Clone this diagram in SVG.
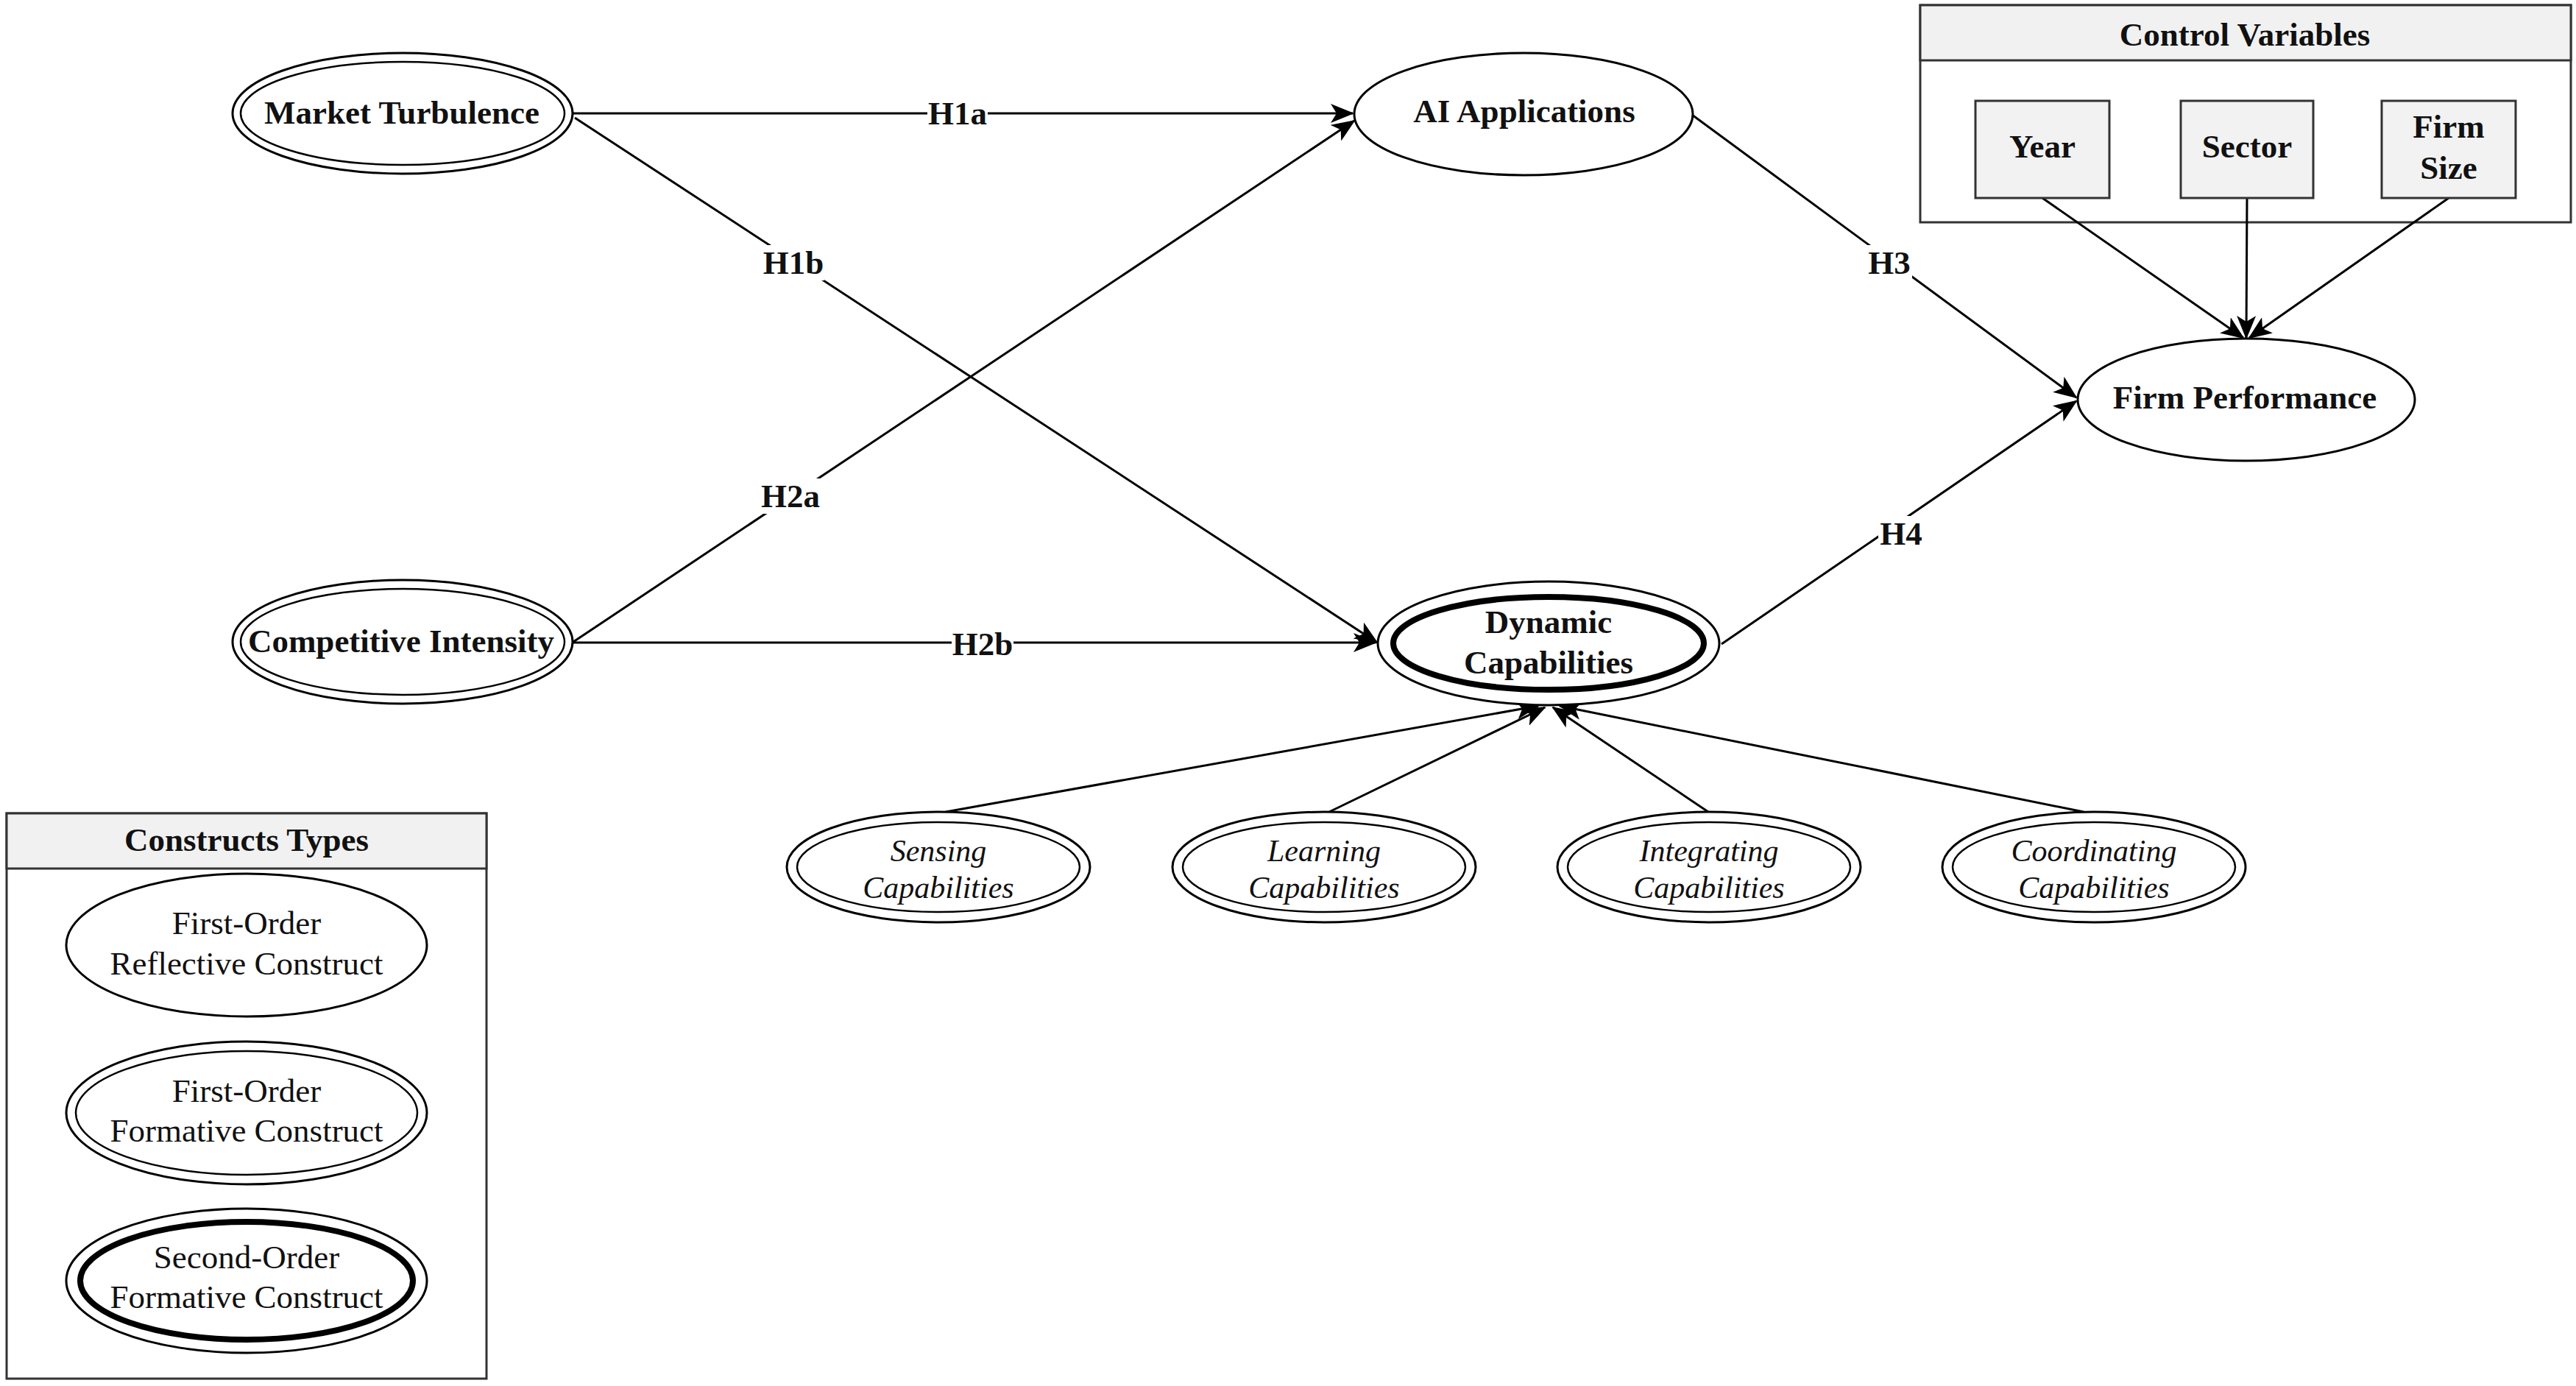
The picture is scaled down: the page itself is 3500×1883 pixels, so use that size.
<svg xmlns="http://www.w3.org/2000/svg" width="3500" height="1883" viewBox="0 0 3500 1883">
<style>
.bg{fill:#ffffff}
.n{fill:#ffffff;stroke:#000;stroke-width:3}
.d{fill:none;stroke:#000;stroke-width:2.5}
.t{fill:none;stroke:#000;stroke-width:8}
.e{fill:none;stroke:#000;stroke-width:3}
.lb{fill:#ffffff;stroke:none}
.tb{font-family:"Liberation Serif","Times New Roman",serif;font-size:45px;font-weight:bold;fill:#111;text-anchor:middle}
.tr{font-family:"Liberation Serif","Times New Roman",serif;font-size:45px;fill:#111;text-anchor:middle}
.ti{font-family:"Liberation Serif","Times New Roman",serif;font-size:42px;font-style:italic;fill:#111;text-anchor:middle}
.box{fill:#ffffff;stroke:#333;stroke-width:3}
.hdr{fill:#f1f1f1;stroke:#333;stroke-width:3}
.cv{fill:#f2f2f2;stroke:#333;stroke-width:3}
</style>
<defs>
<marker id="arr" markerUnits="userSpaceOnUse" markerWidth="32" markerHeight="26" refX="30" refY="13" orient="auto">
<path d="M0,0 L32,13 L0,26 L8,13 Z" fill="#000"/>
</marker>
</defs>
<rect class="bg" x="0" y="0" width="3500" height="1883"/>

<g id="control-variables">
<rect class="box" x="2609" y="7" width="884" height="295"/>
<rect class="hdr" x="2609" y="7" width="884" height="75"/>
<text class="tb" x="3050" y="62">Control Variables</text>
</g>

<g id="connectors">
<line class="e" x1="779" y1="154" x2="1838" y2="154" marker-end="url(#arr)"/>
<line class="e" x1="781" y1="160" x2="1871" y2="873" marker-end="url(#arr)"/>
<line class="e" x1="779" y1="872" x2="1840" y2="164" marker-end="url(#arr)"/>
<line class="e" x1="779" y1="873" x2="1869" y2="873" marker-end="url(#arr)"/>
<line class="e" x1="2299" y1="156" x2="2821" y2="540" marker-end="url(#arr)"/>
<line class="e" x1="2339" y1="875" x2="2821" y2="545" marker-end="url(#arr)"/>
<line class="e" x1="2775" y1="269" x2="3048" y2="459" marker-end="url(#arr)"/>
<line class="e" x1="3053" y1="269" x2="3052" y2="459" marker-end="url(#arr)"/>
<line class="e" x1="3327" y1="269" x2="3056" y2="459" marker-end="url(#arr)"/>
<line class="e" x1="1285" y1="1103" x2="2090" y2="959" marker-end="url(#arr)"/>
<line class="e" x1="1806" y1="1103" x2="2099" y2="961" marker-end="url(#arr)"/>
<line class="e" x1="2321" y1="1103" x2="2110" y2="961" marker-end="url(#arr)"/>
<line class="e" x1="2831" y1="1103" x2="2119" y2="959" marker-end="url(#arr)"/>
<g id="edge-labels">
<rect class="lb" x="1260" y="130" width="82" height="48"/>
<text class="tb" x="1301" y="169">H1a</text>
<rect class="lb" x="1036" y="333" width="84" height="48"/>
<text class="tb" x="1078" y="372">H1b</text>
<rect class="lb" x="1032" y="650" width="84" height="48"/>
<text class="tb" x="1074" y="689">H2a</text>
<rect class="lb" x="1293" y="851" width="84" height="48"/>
<text class="tb" x="1335" y="890">H2b</text>
<rect class="lb" x="2536" y="333" width="62" height="48"/>
<text class="tb" x="2567" y="372">H3</text>
<rect class="lb" x="2552" y="701" width="62" height="48"/>
<text class="tb" x="2583" y="740">H4</text>
</g>
</g>

<g id="market-turbulence">
<ellipse class="n" cx="547" cy="154" rx="231" ry="82" stroke-width="2.5"/>
<ellipse class="d" cx="547" cy="154" rx="220" ry="70"/>
<text class="tb" x="546" y="168">Market Turbulence</text>
</g>

<g id="competitive-intensity">
<ellipse class="n" cx="547" cy="872" rx="231" ry="84" stroke-width="2.5"/>
<ellipse class="d" cx="547" cy="872" rx="220" ry="72"/>
<text class="tb" x="545" y="886">Competitive Intensity</text>
</g>

<g id="ai-applications">
<ellipse class="n" cx="2070" cy="155" rx="230" ry="83"/>
<text class="tb" x="2071" y="166">AI Applications</text>
</g>

<g id="dynamic-capabilities">
<ellipse class="n" cx="2104" cy="874" rx="232" ry="84" stroke-width="8"/>
<ellipse class="t" cx="2104" cy="874" rx="211" ry="63"/>
<text class="tb" x="2104" y="860">Dynamic</text>
<text class="tb" x="2104" y="915">Capabilities</text>
</g>

<g id="firm-performance">
<ellipse class="n" cx="3052" cy="543" rx="229" ry="83"/>
<text class="tb" x="3050" y="555">Firm Performance</text>
</g>

<g id="year">
<rect class="cv" x="2684" y="137" width="182" height="132"/>
<text class="tb" x="2775" y="214">Year</text>
</g>
<g id="sector">
<rect class="cv" x="2963" y="137" width="180" height="132"/>
<text class="tb" x="3053" y="214">Sector</text>
</g>
<g id="firm-size">
<rect class="cv" x="3236" y="137" width="182" height="132"/>
<text class="tb" x="3327" y="187">Firm</text>
<text class="tb" x="3327" y="243">Size</text>
</g>

<g id="sensing-capabilities">
<ellipse class="n" cx="1275" cy="1178" rx="206" ry="75" stroke-width="2.5"/>
<ellipse class="d" cx="1275" cy="1178" rx="192" ry="61"/>
<text class="ti" x="1275" y="1170">Sensing</text>
<text class="ti" x="1275" y="1220">Capabilities</text>
</g>
<g id="learning-capabilities">
<ellipse class="n" cx="1799" cy="1178" rx="206" ry="75" stroke-width="2.5"/>
<ellipse class="d" cx="1799" cy="1178" rx="192" ry="61"/>
<text class="ti" x="1799" y="1170">Learning</text>
<text class="ti" x="1799" y="1220">Capabilities</text>
</g>
<g id="integrating-capabilities">
<ellipse class="n" cx="2322" cy="1178" rx="206" ry="75" stroke-width="2.5"/>
<ellipse class="d" cx="2322" cy="1178" rx="192" ry="61"/>
<text class="ti" x="2322" y="1170">Integrating</text>
<text class="ti" x="2322" y="1220">Capabilities</text>
</g>
<g id="coordinating-capabilities">
<ellipse class="n" cx="2845" cy="1178" rx="206" ry="75" stroke-width="2.5"/>
<ellipse class="d" cx="2845" cy="1178" rx="192" ry="61"/>
<text class="ti" x="2845" y="1170">Coordinating</text>
<text class="ti" x="2845" y="1220">Capabilities</text>
</g>

<g id="constructs-types">
<rect class="box" x="9" y="1105" width="652" height="768"/>
<rect class="hdr" x="9" y="1105" width="652" height="75"/>
<text class="tb" x="335" y="1156">Constructs Types</text>
</g>
<g id="legend-reflective">
<ellipse class="n" cx="335" cy="1284" rx="245" ry="97"/>
<text class="tr" x="335" y="1269">First-Order</text>
<text class="tr" x="335" y="1324">Reflective Construct</text>
</g>
<g id="legend-formative">
<ellipse class="n" cx="335" cy="1512" rx="245" ry="97" stroke-width="2.5"/>
<ellipse class="d" cx="335" cy="1512" rx="232" ry="84"/>
<text class="tr" x="335" y="1497">First-Order</text>
<text class="tr" x="335" y="1551">Formative Construct</text>
</g>
<g id="legend-second-order">
<ellipse class="n" cx="335" cy="1740" rx="245" ry="98" stroke-width="9"/>
<ellipse class="t" cx="335" cy="1740" rx="226" ry="80"/>
<text class="tr" x="335" y="1723">Second-Order</text>
<text class="tr" x="335" y="1777">Formative Construct</text>
</g>
</svg>
